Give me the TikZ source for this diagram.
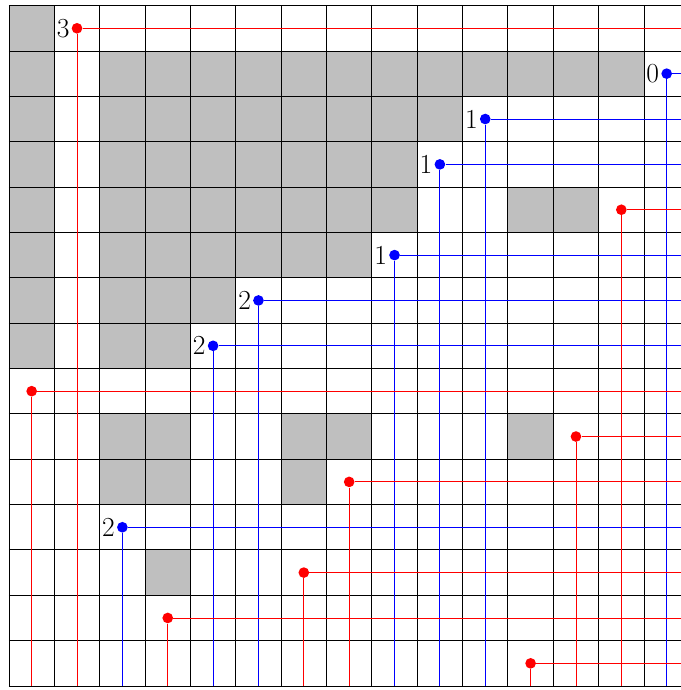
\documentclass[tikz,border=0pt]{standalone}
\begin{document}
\begin{tikzpicture}[x=1cm,y=1cm,
  cellfill/.style={fill=lightgray},
  gridline/.style={black,line width=0.55pt},
  track/.style={line width=0.55pt},
  dotnode/.style={circle,inner sep=0pt,minimum size=0.235cm},
  lab/.style={font=\LARGE,inner sep=1pt}]
\useasboundingbox (-0.198,-0.088) rectangle (14.815,15.124);
\clip (-0.198,-0.088) rectangle (14.815,15.124);
% shaded cells (column c from left, row r from top)
\foreach \c/\r in {0/0,
  0/1,2/1,3/1,4/1,5/1,6/1,7/1,8/1,9/1,10/1,11/1,12/1,13/1,
  0/2,2/2,3/2,4/2,5/2,6/2,7/2,8/2,9/2,
  0/3,2/3,3/3,4/3,5/3,6/3,7/3,8/3,
  0/4,2/4,3/4,4/4,5/4,6/4,7/4,8/4,11/4,12/4,
  0/5,2/5,3/5,4/5,5/5,6/5,7/5,
  0/6,2/6,3/6,4/6,
  0/7,2/7,3/7,
  2/9,3/9,6/9,7/9,11/9,
  2/10,3/10,6/10,
  3/12}
  \fill[cellfill] (\c,14-\r) rectangle ++(1,1);
\draw[gridline] (0,0) grid (15,15);
% points: column/row/colour/label
\foreach \c/\r/\col/\t in {1/0/red/3, 14/1/blue/0, 10/2/blue/1, 9/3/blue/1,
  8/5/blue/1, 5/6/blue/2, 4/7/blue/2, 2/11/blue/2} {
  \node[dotnode,fill=\col,label={[lab]left:\t}] (d\r) at (\c+0.5,14.5-\r) {};
  \coordinate (b\r) at (\c+0.5,0);
  \coordinate (e\r) at (15,14.5-\r);
  \draw[track,\col] (d\r.south) -- (b\r);
  \draw[track,\col] (d\r.east) -- (e\r);
}
\foreach \c/\r in {13/4, 0/8, 12/9, 7/10, 6/12, 3/13, 11/14} {
  \node[dotnode,fill=red] (d\r) at (\c+0.5,14.5-\r) {};
  \coordinate (b\r) at (\c+0.5,0);
  \coordinate (e\r) at (15,14.5-\r);
  \draw[track,red] (d\r.south) -- (b\r);
  \draw[track,red] (d\r.east) -- (e\r);
}
\end{tikzpicture}
\end{document}
